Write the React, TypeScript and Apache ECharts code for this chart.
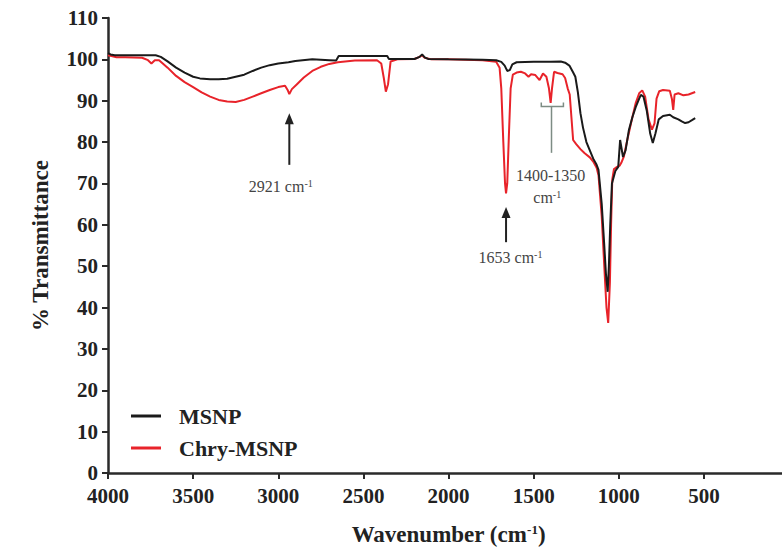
import React, { useEffect, useRef } from "react";
import * as echarts from "echarts";

const seriesNames = ["MSNP", "Chry-MSNP"];

// [wavenumber (cm-1), % transmittance]
const msnpSpectrum: number[][] = [
  [4000, 101.5], [3985, 101.2], [3960, 101], [3900, 101], [3800, 101], [3720, 101], [3690, 100.6],
  [3650, 99.5], [3600, 98], [3550, 96.8], [3500, 95.8], [3460, 95.4], [3400, 95.2], [3350, 95.2],
  [3300, 95.3], [3250, 95.8], [3200, 96.3], [3150, 97.2], [3100, 98], [3050, 98.6], [3000, 99],
  [2940, 99.3], [2900, 99.6], [2800, 100], [2700, 99.8], [2660, 99.7], [2645, 100.8], [2500, 100.8],
  [2360, 100.8], [2350, 100.1], [2200, 100.1], [2170, 100.6], [2155, 101.2], [2140, 100.5], [2120, 100.1],
  [2000, 100], [1800, 99.9], [1720, 99.8], [1690, 99.4], [1670, 98.5], [1655, 97.2], [1640, 97.4],
  [1625, 98.8], [1600, 99.3], [1500, 99.4], [1400, 99.4], [1340, 99.5], [1315, 99.2], [1290, 98.5],
  [1270, 97], [1255, 95.8], [1240, 92], [1225, 87], [1210, 83.5], [1190, 80], [1170, 78], [1150, 76],
  [1130, 74.5], [1119, 73.3], [1100, 65], [1085, 55], [1075, 48], [1065, 43.8], [1058, 50], [1050, 60],
  [1040, 70], [1020, 73], [1003, 74], [992, 80.5], [975, 76.4], [960, 78], [940, 83], [920, 86],
  [900, 88.5], [880, 90.5], [870, 91.4], [855, 91], [835, 87.5], [815, 82], [800, 79.8], [785, 82],
  [765, 85.5], [740, 86.3], [700, 86.6], [680, 86], [650, 85.5], [630, 85], [610, 84.6], [590, 84.8],
  [570, 85.3], [551, 85.8],
];

const chryMsnpSpectrum: number[][] = [
  [4000, 101], [3980, 100.8], [3950, 100.5], [3900, 100.5], [3800, 100.4], [3765, 99.8], [3745, 99],
  [3725, 99.8], [3700, 99.8], [3650, 98], [3600, 96], [3550, 94.5], [3500, 93.3], [3450, 92],
  [3400, 91], [3350, 90.2], [3300, 89.8], [3250, 89.7], [3200, 90.2], [3150, 91], [3100, 91.8],
  [3050, 92.6], [3000, 93.3], [2960, 93.6], [2945, 92.6], [2935, 91.6], [2920, 92.8], [2890, 94],
  [2850, 95.6], [2800, 97.2], [2750, 98.2], [2700, 98.9], [2650, 99.3], [2550, 99.7], [2420, 99.8],
  [2395, 99], [2380, 95.5], [2368, 92.2], [2355, 94], [2340, 99.5], [2300, 100], [2200, 100.1],
  [2170, 100.6], [2155, 101], [2140, 100.4], [2100, 100], [2000, 100], [1800, 99.8], [1720, 99.4],
  [1700, 98], [1690, 93], [1678, 80], [1668, 70], [1662, 67.6], [1655, 70], [1645, 82], [1635, 93],
  [1622, 96.3], [1600, 96.8], [1575, 97], [1550, 96.6], [1530, 95.8], [1515, 96.4], [1490, 96.2],
  [1465, 95], [1445, 96.6], [1425, 95.8], [1410, 93], [1400, 89.5], [1392, 93], [1380, 97],
  [1360, 96.7], [1330, 96.4], [1315, 95.5], [1300, 93], [1288, 91.5], [1278, 86], [1268, 80.5],
  [1250, 79.5], [1225, 78.3], [1200, 77.3], [1170, 76.3], [1150, 75.3], [1130, 73.8], [1119, 72],
  [1100, 62], [1085, 50], [1072, 40], [1062, 36.3], [1052, 46], [1045, 60], [1038, 71], [1028, 73.5],
  [1010, 74], [995, 74.3], [985, 75], [970, 76.5], [950, 80.5], [920, 86], [900, 89.5], [880, 91.8],
  [862, 92.5], [845, 91], [825, 85.5], [805, 83], [790, 84.5], [778, 90.5], [762, 92.3], [740, 92.6],
  [700, 92.4], [688, 90.5], [680, 87.8], [672, 91.5], [650, 91.8], [620, 91.3], [590, 91.5], [551, 92.1],
];

// annotation anchors in data coordinates
const arrow2921 = { wn: 2935, tip: 87, tail: 74.5, textWn: 2985, textVal: 69.2, label: "2921 cm" };
const arrow1653 = { wn: 1662, tip: 64.3, tail: 55.8, textWn: 1636, textVal: 52.2, label: "1653 cm" };
const bracket1400 = { from: 1455, to: 1325, mid: 1395, top: 88.6, capTop: 89.6, tail: 77.4 };
const bracketText = { wn: 1400, val1: 72, val2: 66.7, line1: "1400-1350", line2: "cm" };

const SERIF = "'Liberation Serif', 'Times New Roman', serif";

export default function App() {
  const ref = useRef<HTMLDivElement>(null);
  useEffect(() => {
    const chart = echarts.init(ref.current!, null, { renderer: "svg" });
    chart.setOption({
      animation: false,
      backgroundColor: "#ffffff",
      grid: { left: 108, right: 0, top: 18, bottom: 83 },
      legend: {
        data: seriesNames,
        orient: "vertical",
        left: 126,
        top: 400,
        icon: "rect",
        itemWidth: 30,
        itemHeight: 3,
        itemGap: 10,
        textStyle: { fontFamily: SERIF, fontWeight: "bold", fontSize: 22, color: "#222", padding: [0, 0, 0, 13] },
      },
      xAxis: {
        type: "value",
        min: 0,
        max: 4000,
        interval: 500,
        inverse: true,
        name: "Wavenumber (cm{sup|-1})",
        nameLocation: "middle",
        nameGap: 50,
        nameTextStyle: {
          fontFamily: SERIF,
          fontWeight: "bold",
          fontSize: 23,
          color: "#222",
          rich: { sup: { fontFamily: SERIF, fontWeight: "bold", fontSize: 13, verticalAlign: "top", color: "#222" } },
        },
        axisLine: { onZero: false, lineStyle: { color: "#2a2a2a", width: 2.5 } },
        axisTick: { length: 6, lineStyle: { color: "#2a2a2a", width: 2 } },
        axisLabel: {
          margin: 12,
          fontFamily: SERIF,
          fontWeight: "bold",
          fontSize: 21,
          color: "#222",
          formatter: (v: number) => (v === 0 ? "" : String(v)),
        },
        splitLine: { show: false },
      },
      yAxis: {
        type: "value",
        position: "left",
        min: 0,
        max: 110,
        interval: 10,
        name: "% Transmittance",
        nameLocation: "middle",
        nameGap: 56,
        nameRotate: 90,
        nameTextStyle: { fontFamily: SERIF, fontWeight: "bold", fontSize: 23, color: "#222" },
        axisLine: { show: true, onZero: false, lineStyle: { color: "#2a2a2a", width: 2.5 } },
        axisTick: { show: true, length: 6, lineStyle: { color: "#2a2a2a", width: 2 } },
        axisLabel: { margin: 10, fontFamily: SERIF, fontWeight: "bold", fontSize: 21, color: "#222" },
        splitLine: { show: false },
      },
      series: [
        {
          name: seriesNames[0],
          type: "line",
          data: msnpSpectrum,
          showSymbol: false,
          symbol: "none",
          color: "#1a1a1a",
          lineStyle: { color: "#1a1a1a", width: 2 },
          z: 3,
        },
        {
          name: seriesNames[1],
          type: "line",
          data: chryMsnpSpectrum,
          showSymbol: false,
          symbol: "none",
          color: "#e8232a",
          lineStyle: { color: "#e8232a", width: 2 },
          z: 2,
        },
      ],
    });

    const px = (wn: number, v: number) => chart.convertToPixel({ gridIndex: 0 }, [wn, v]) as number[];
    const annColor = "#444";
    const annFont = `16px ${SERIF}`;
    const arrowEls = (a: typeof arrow2921) => {
      const tip = px(a.wn, a.tip);
      const tail = px(a.wn, a.tail);
      const t = px(a.textWn, a.textVal);
      return [
        { type: "line", shape: { x1: tail[0], y1: tail[1], x2: tip[0], y2: tip[1] + 8 }, style: { stroke: "#222", lineWidth: 2 } },
        {
          type: "polygon",
          shape: { points: [[tip[0], tip[1]], [tip[0] - 4.5, tip[1] + 11], [tip[0] + 4.5, tip[1] + 11]] },
          style: { fill: "#222" },
        },
        {
          type: "text",
          x: t[0],
          y: t[1],
          style: {
            text: a.label + "{s|-1}",
            font: annFont,
            fill: annColor,
            align: "center",
            verticalAlign: "middle",
            rich: { s: { fontSize: 10, fontFamily: SERIF, verticalAlign: "top", fill: annColor } },
          },
        },
      ];
    };
    const b1 = px(bracket1400.from, bracket1400.top);
    const b2 = px(bracket1400.to, bracket1400.top);
    const bc = px(bracket1400.from, bracket1400.capTop);
    const bm = px(bracket1400.mid, bracket1400.top);
    const bt = px(bracket1400.mid, bracket1400.tail);
    const tx1 = px(bracketText.wn, bracketText.val1);
    const tx2 = px(bracketText.wn + 20, bracketText.val2);
    const bColor = "#7d8c84";
    chart.setOption({
      graphic: [
        ...arrowEls(arrow2921),
        ...arrowEls(arrow1653),
        { type: "polyline", shape: { points: [[b1[0], bc[1]], [b1[0], b1[1]], [b2[0], b2[1]], [b2[0], bc[1]]] }, style: { stroke: bColor, lineWidth: 1.5, fill: null } },
        { type: "line", shape: { x1: bm[0], y1: bm[1], x2: bt[0], y2: bt[1] }, style: { stroke: bColor, lineWidth: 1.5 } },
        { type: "text", x: tx1[0], y: tx1[1], style: { text: bracketText.line1, font: annFont, fill: annColor, align: "center", verticalAlign: "middle" } },
        {
          type: "text",
          x: tx2[0],
          y: tx2[1],
          style: {
            text: bracketText.line2 + "{s|-1}",
            font: annFont,
            fill: annColor,
            align: "center",
            verticalAlign: "middle",
            rich: { s: { fontSize: 10, fontFamily: SERIF, verticalAlign: "top", fill: annColor } },
          },
        },
      ],
    });
    return () => chart.dispose();
  }, []);
  return <div ref={ref} style={{ position: "fixed", left: 0, top: 0, width: 792, height: 556 }} />;
}
